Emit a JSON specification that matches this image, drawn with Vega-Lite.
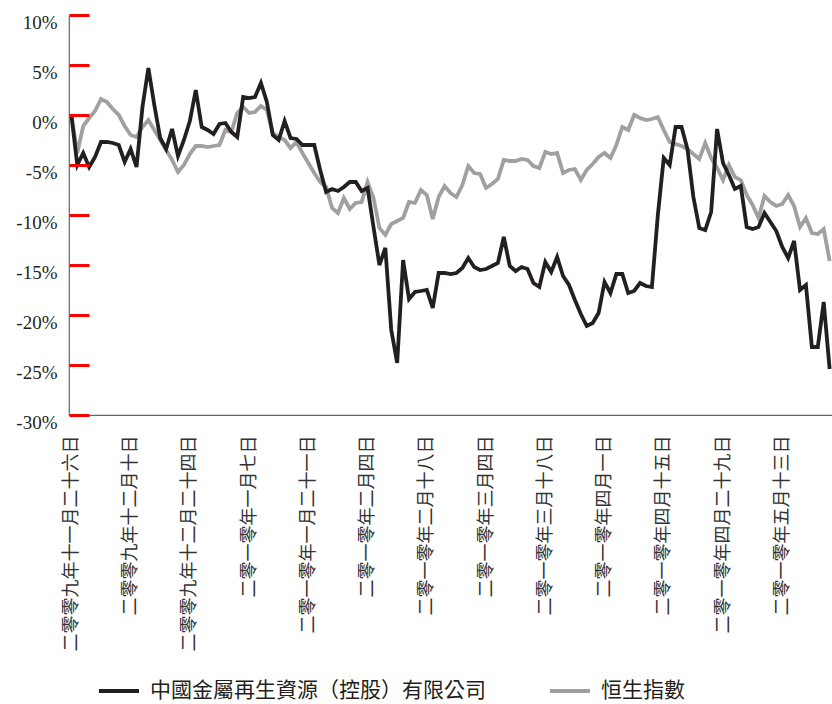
{
"$schema": "https://vega.github.io/schema/vega-lite/v6.json",
"width": 763,
"height": 400,
"autosize": {"type": "none"},
"padding": {"left": 69, "top": 15, "right": 0, "bottom": 289},
"background": "white",
"config": {"view": {"stroke": "#666666", "strokeWidth": 1.2, "strokeDash": [0, 1163, 1163, 0]}},
"data": {"values": [
{"date":"2009-11-26","metal":0,"hsi":0},
{"date":"2009-11-27","metal":-5.0,"hsi":-3.8},
{"date":"2009-11-30","metal":-3.8,"hsi":-1.1},
{"date":"2009-12-01","metal":-5.2,"hsi":-0.3},
{"date":"2009-12-02","metal":-4.2,"hsi":0.4},
{"date":"2009-12-03","metal":-2.7,"hsi":1.6},
{"date":"2009-12-04","metal":-2.7,"hsi":1.3},
{"date":"2009-12-07","metal":-2.8,"hsi":0.6},
{"date":"2009-12-08","metal":-3.0,"hsi":0.0},
{"date":"2009-12-09","metal":-4.7,"hsi":-1.1},
{"date":"2009-12-10","metal":-3.4,"hsi":-2.0},
{"date":"2009-12-11","metal":-5.2,"hsi":-2.2},
{"date":"2009-12-14","metal":0.8,"hsi":-1.2},
{"date":"2009-12-15","metal":4.7,"hsi":-0.5},
{"date":"2009-12-16","metal":1.0,"hsi":-1.5},
{"date":"2009-12-17","metal":-2.3,"hsi":-2.5},
{"date":"2009-12-18","metal":-3.4,"hsi":-3.5},
{"date":"2009-12-21","metal":-1.4,"hsi":-4.5},
{"date":"2009-12-22","metal":-4.1,"hsi":-5.7},
{"date":"2009-12-23","metal":-2.5,"hsi":-5.0},
{"date":"2009-12-24","metal":-0.6,"hsi":-3.9},
{"date":"2009-12-25","metal":2.5,"hsi":-3.1},
{"date":"2009-12-28","metal":-1.2,"hsi":-3.1},
{"date":"2009-12-29","metal":-1.5,"hsi":-3.2},
{"date":"2009-12-30","metal":-1.9,"hsi":-3.1},
{"date":"2009-12-31","metal":-0.9,"hsi":-3.0},
{"date":"2010-01-01","metal":-0.8,"hsi":-1.5},
{"date":"2010-01-04","metal":-1.7,"hsi":-1.7},
{"date":"2010-01-05","metal":-2.2,"hsi":0.2},
{"date":"2010-01-06","metal":1.8,"hsi":0.8},
{"date":"2010-01-07","metal":1.7,"hsi":0.2},
{"date":"2010-01-08","metal":1.8,"hsi":0.3},
{"date":"2010-01-11","metal":3.2,"hsi":0.9},
{"date":"2010-01-12","metal":1.3,"hsi":0.5},
{"date":"2010-01-13","metal":-2.0,"hsi":-1.8},
{"date":"2010-01-14","metal":-2.5,"hsi":-2.2},
{"date":"2010-01-15","metal":-0.6,"hsi":-2.5},
{"date":"2010-01-18","metal":-2.3,"hsi":-3.3},
{"date":"2010-01-19","metal":-2.4,"hsi":-2.7},
{"date":"2010-01-20","metal":-3.0,"hsi":-3.8},
{"date":"2010-01-21","metal":-3.0,"hsi":-4.8},
{"date":"2010-01-22","metal":-3.0,"hsi":-5.8},
{"date":"2010-01-25","metal":-5.5,"hsi":-6.7},
{"date":"2010-01-26","metal":-7.7,"hsi":-7.2},
{"date":"2010-01-27","metal":-7.4,"hsi":-9.3},
{"date":"2010-01-28","metal":-7.6,"hsi":-9.8},
{"date":"2010-01-29","metal":-7.2,"hsi":-8.3},
{"date":"2010-02-01","metal":-6.7,"hsi":-9.4},
{"date":"2010-02-02","metal":-6.7,"hsi":-8.8},
{"date":"2010-02-03","metal":-7.6,"hsi":-8.7},
{"date":"2010-02-04","metal":-7.3,"hsi":-6.7},
{"date":"2010-02-05","metal":-11.2,"hsi":-8.3},
{"date":"2010-02-08","metal":-15.0,"hsi":-11.3},
{"date":"2010-02-09","metal":-13.3,"hsi":-12.0},
{"date":"2010-02-10","metal":-21.5,"hsi":-10.9},
{"date":"2010-02-11","metal":-24.8,"hsi":-10.6},
{"date":"2010-02-12","metal":-14.5,"hsi":-10.3},
{"date":"2010-02-15","metal":-18.4,"hsi":-8.7},
{"date":"2010-02-16","metal":-17.7,"hsi":-8.8},
{"date":"2010-02-17","metal":-17.6,"hsi":-7.5},
{"date":"2010-02-18","metal":-17.5,"hsi":-8.0},
{"date":"2010-02-19","metal":-19.3,"hsi":-10.4},
{"date":"2010-02-22","metal":-15.8,"hsi":-8.2},
{"date":"2010-02-23","metal":-15.8,"hsi":-7.1},
{"date":"2010-02-24","metal":-15.9,"hsi":-7.8},
{"date":"2010-02-25","metal":-15.8,"hsi":-8.2},
{"date":"2010-02-26","metal":-15.3,"hsi":-7.0},
{"date":"2010-03-01","metal":-14.3,"hsi":-5.1},
{"date":"2010-03-02","metal":-15.2,"hsi":-5.8},
{"date":"2010-03-03","metal":-15.5,"hsi":-5.9},
{"date":"2010-03-04","metal":-15.4,"hsi":-7.3},
{"date":"2010-03-05","metal":-15.1,"hsi":-6.9},
{"date":"2010-03-08","metal":-14.8,"hsi":-6.4},
{"date":"2010-03-09","metal":-12.2,"hsi":-4.5},
{"date":"2010-03-10","metal":-15.1,"hsi":-4.6},
{"date":"2010-03-11","metal":-15.6,"hsi":-4.6},
{"date":"2010-03-12","metal":-15.2,"hsi":-4.4},
{"date":"2010-03-15","metal":-15.4,"hsi":-4.5},
{"date":"2010-03-16","metal":-16.8,"hsi":-5.1},
{"date":"2010-03-17","metal":-17.2,"hsi":-5.3},
{"date":"2010-03-18","metal":-14.7,"hsi":-3.7},
{"date":"2010-03-19","metal":-15.7,"hsi":-3.9},
{"date":"2010-03-22","metal":-14.2,"hsi":-3.8},
{"date":"2010-03-23","metal":-16.1,"hsi":-5.8},
{"date":"2010-03-24","metal":-17.0,"hsi":-5.5},
{"date":"2010-03-25","metal":-18.5,"hsi":-5.4},
{"date":"2010-03-26","metal":-19.9,"hsi":-6.5},
{"date":"2010-03-29","metal":-21.1,"hsi":-5.5},
{"date":"2010-03-30","metal":-20.8,"hsi":-4.9},
{"date":"2010-03-31","metal":-19.8,"hsi":-4.2},
{"date":"2010-04-01","metal":-16.7,"hsi":-3.8},
{"date":"2010-04-02","metal":-17.8,"hsi":-4.3},
{"date":"2010-04-05","metal":-15.9,"hsi":-3.0},
{"date":"2010-04-06","metal":-15.9,"hsi":-1.2},
{"date":"2010-04-07","metal":-17.8,"hsi":-1.5},
{"date":"2010-04-08","metal":-17.6,"hsi":0.0},
{"date":"2010-04-09","metal":-16.8,"hsi":-0.3},
{"date":"2010-04-12","metal":-17.1,"hsi":-0.5},
{"date":"2010-04-13","metal":-17.2,"hsi":-0.4},
{"date":"2010-04-14","metal":-10.0,"hsi":-0.2},
{"date":"2010-04-15","metal":-4.3,"hsi":-1.5},
{"date":"2010-04-16","metal":-5.0,"hsi":-2.7},
{"date":"2010-04-19","metal":-1.2,"hsi":-2.9},
{"date":"2010-04-20","metal":-1.2,"hsi":-3.1},
{"date":"2010-04-21","metal":-3.4,"hsi":-3.4},
{"date":"2010-04-22","metal":-8.2,"hsi":-3.9},
{"date":"2010-04-23","metal":-11.3,"hsi":-4.4},
{"date":"2010-04-26","metal":-11.5,"hsi":-2.8},
{"date":"2010-04-27","metal":-9.7,"hsi":-4.3},
{"date":"2010-04-28","metal":-1.4,"hsi":-5.3},
{"date":"2010-04-29","metal":-4.8,"hsi":-6.5},
{"date":"2010-04-30","metal":-6.0,"hsi":-5.0},
{"date":"2010-05-03","metal":-7.4,"hsi":-6.2},
{"date":"2010-05-04","metal":-7.1,"hsi":-6.5},
{"date":"2010-05-05","metal":-11.2,"hsi":-8.0},
{"date":"2010-05-06","metal":-11.4,"hsi":-9.0},
{"date":"2010-05-07","metal":-11.2,"hsi":-10.3},
{"date":"2010-05-10","metal":-9.8,"hsi":-8.1},
{"date":"2010-05-11","metal":-10.7,"hsi":-8.7},
{"date":"2010-05-12","metal":-11.6,"hsi":-9.1},
{"date":"2010-05-13","metal":-13.2,"hsi":-8.9},
{"date":"2010-05-14","metal":-14.3,"hsi":-8.0},
{"date":"2010-05-17","metal":-12.6,"hsi":-9.1},
{"date":"2010-05-18","metal":-17.5,"hsi":-11.2},
{"date":"2010-05-19","metal":-17.0,"hsi":-10.3},
{"date":"2010-05-20","metal":-23.2,"hsi":-11.8},
{"date":"2010-05-21","metal":-23.2,"hsi":-11.9},
{"date":"2010-05-24","metal":-18.7,"hsi":-11.4},
{"date":"2010-05-25","metal":-25.4,"hsi":-14.6}
]},
"transform": [{"fold": ["metal", "hsi"], "as": ["series", "value"]}],
"encoding": {
  "x": {
    "field": "date", "type": "ordinal",
    "scale": {"type": "point", "padding": 0.4},
    "axis": {
      "title": null,
      "values": ["2009-11-26","2009-12-10","2009-12-24","2010-01-07","2010-01-21","2010-02-04","2010-02-18","2010-03-04","2010-03-18","2010-04-01","2010-04-15","2010-04-29","2010-05-13"],
      "labelExpr": "['二零零九年十一月二十六日','二零零九年十二月十日','二零零九年十二月二十四日','二零一零年一月七日','二零一零年一月二十一日','二零一零年二月四日','二零一零年二月十八日','二零一零年三月四日','二零一零年三月十八日','二零一零年四月一日','二零一零年四月十五日','二零一零年四月二十九日','二零一零年五月十三日'][indexof(['2009-11-26','2009-12-10','2009-12-24','2010-01-07','2010-01-21','2010-02-04','2010-02-18','2010-03-04','2010-03-18','2010-04-01','2010-04-15','2010-04-29','2010-05-13'], datum.value)]",
      "labelAngle": -90,
      "labelFont": "Noto Sans CJK TC",
      "labelFontSize": 18,
      "labelColor": "#333333",
      "ticks": false,
      "domain": false,
      "labelPadding": 20,
      "labelLimit": 400,
      "labelOverlap": false,
      "grid": false
    }
  },
  "y": {
    "field": "value", "type": "quantitative",
    "scale": {"domain": [-30, 10], "nice": false, "zero": false},
    "axis": {
      "title": null,
      "offset": -20,
      "zindex": 1,
      "values": [-30, -25, -20, -15, -10, -5, 0, 5, 10],
      "labelExpr": "datum.value + '%'",
      "labelFont": "Liberation Serif",
      "labelFontSize": 19,
      "labelColor": "#231f20",
      "domain": false,
      "ticks": true,
      "tickSize": 20,
      "tickColor": "#ff0000",
      "tickWidth": 3,
      "labelPadding": 12,
      "labelOffset": 7,
      "grid": false
    }
  },
  "color": {
    "field": "series", "type": "nominal",
    "scale": {"domain": ["metal", "hsi"], "range": ["#231f20", "#a0a0a0"]},
    "legend": {
      "title": null,
      "orient": "none",
      "legendX": 28,
      "legendY": 654,
      "direction": "horizontal",
      "symbolType": "stroke",
      "symbolSize": 1600,
      "symbolStrokeWidth": 4,
      "labelFont": "Noto Sans CJK TC",
      "labelFontSize": 21,
      "labelColor": "#231f20",
      "labelOffset": 9,
      "columnPadding": 56,
      "labelLimit": 500,
      "padding": 0,
      "labelExpr": "datum.label == 'metal' ? '中國金屬再生資源（控股）有限公司' : '恒生指數'"
    }
  }
},
"layer": [
  {"transform": [{"filter": "datum.series == 'hsi'"}], "mark": {"type": "line", "strokeWidth": 3.8}},
  {"transform": [{"filter": "datum.series == 'metal'"}], "mark": {"type": "line", "strokeWidth": 3.8}}
]
}
